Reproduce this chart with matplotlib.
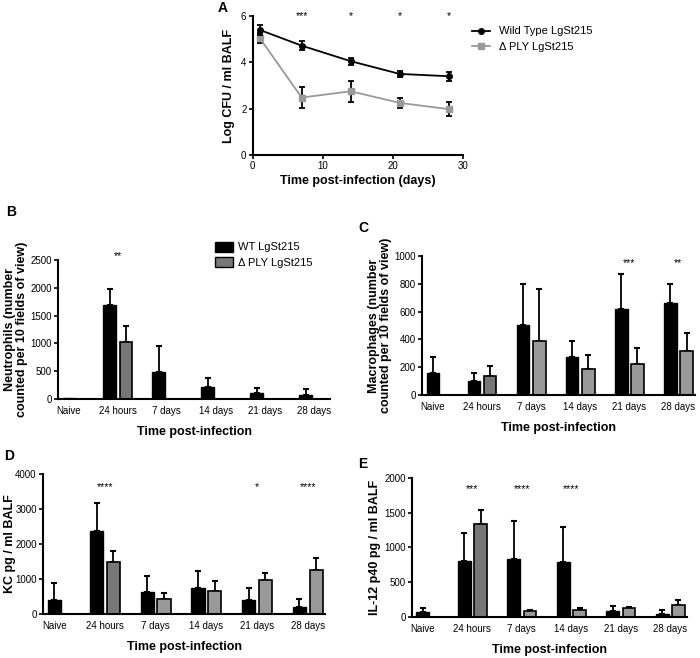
import numpy as np
import matplotlib
matplotlib.use('Agg')
import matplotlib.pyplot as plt
from matplotlib.patches import Patch
from matplotlib.lines import Line2D

plt.rcParams['font.family'] = ['Liberation Sans', 'DejaVu Sans']
plt.rcParams['font.size'] = 7

# ---- Panel A data ----
days = [1, 7, 14, 21, 28]
wt_cfu = [5.4, 4.72, 4.05, 3.5, 3.4]
wt_cfu_err = [0.2, 0.18, 0.15, 0.12, 0.2]
ply_cfu = [5.05, 2.48, 2.75, 2.25, 1.98]
ply_cfu_err = [0.2, 0.45, 0.45, 0.22, 0.3]
a_stars = {7: '***', 14: '*', 21: '*', 28: '*'}

# ---- bar panels ----
groups = ['Naive', '24 hours', '7 days', '14 days', '21 days', '28 days']

neut_wt = [10, 1690, 490, 215, 105, 80]
neut_wt_err = [0, 290, 470, 160, 90, 105]
neut_ply = [0, 1030, 3, 5, 5, 5]
neut_ply_err = [0, 280, 0, 0, 0, 0]
neut_stars = {1: '**'}

mac_wt = [160, 100, 500, 270, 620, 660]
mac_wt_err = [115, 60, 295, 115, 250, 140]
mac_ply = [0, 135, 390, 190, 225, 320]
mac_ply_err = [0, 70, 370, 95, 115, 125]
mac_stars = {4: '***', 5: '**'}

kc_wt = [400, 2380, 620, 730, 390, 210]
kc_wt_err = [490, 800, 470, 490, 340, 210]
kc_ply = [0, 1480, 440, 650, 980, 1250]
kc_ply_err = [0, 330, 150, 280, 190, 350]
kc_stars = {1: '****', 4: '*', 5: '****'}

il_wt = [65, 810, 830, 795, 80, 50]
il_wt_err = [65, 405, 555, 495, 75, 50]
il_ply = [0, 1340, 80, 95, 125, 175]
il_ply_err = [0, 195, 25, 35, 20, 65]
il_stars = {1: '***', 2: '****', 3: '****'}

GREY = '#999999'
DGREY = '#777777'


def style_axes(ax):
    for s in ['top', 'right']:
        ax.spines[s].set_visible(False)
    for s in ['left', 'bottom']:
        ax.spines[s].set_linewidth(1.5)
    ax.tick_params(direction='out', width=1.2, length=3, labelsize=7, pad=1.5)


def bar_panel(ax, wt, wt_err, ply, ply_err, stars, ymax, ystep, star_y, ylabel):
    off = 0.165
    w = 0.26
    for i in range(len(groups)):
        if i == 0:
            xs_b = 0
        else:
            xs_b = i - off
        ax.bar(xs_b, wt[i], width=w, color='black', edgecolor='black', linewidth=1, zorder=2)
        if wt_err[i] > 0:
            ax.errorbar(xs_b, wt[i], yerr=[[0], [wt_err[i]]], fmt='none', ecolor='black',
                        elinewidth=1.3, capsize=2.5, capthick=1.5, zorder=1)
        if i > 0:
            col = DGREY if i == 1 else GREY
            ax.bar(i + off, ply[i], width=w, color=col, edgecolor='black', linewidth=1.2, zorder=2)
            if ply_err[i] > 0:
                ax.errorbar(i + off, ply[i], yerr=[[0], [ply_err[i]]], fmt='none', ecolor='black',
                            elinewidth=1.3, capsize=2.5, capthick=1.5, zorder=1)
    for k, s in stars.items():
        ax.text(k, star_y, s, ha='center', va='center', fontsize=7.5, clip_on=False)
    ax.set_xlim(-0.22, 5.34)
    ax.set_ylim(0, ymax)
    ax.set_yticks(np.arange(0, ymax + 1, ystep))
    ax.set_xticks(range(len(groups)))
    ax.set_xticklabels(groups)
    style_axes(ax)
    ax.tick_params(axis='x', length=0, pad=5)
    ax.set_xlabel('Time post-infection', fontsize=9, fontweight='bold', labelpad=7)
    ax.set_ylabel(ylabel, fontsize=9, fontweight='bold', labelpad=2, linespacing=1.0)


fig = plt.figure(figsize=(7, 6.58), dpi=100)

# Panel A
axA = fig.add_axes([0.361, 0.7644, 0.30, 0.2113])
axA.errorbar(days, wt_cfu, yerr=wt_cfu_err, color='black', marker='o', markersize=4,
             linewidth=1.3, capsize=2.5, capthick=1.3, elinewidth=1.3, zorder=3)
axA.errorbar(days, ply_cfu, yerr=ply_cfu_err, color=GREY, marker='s', markersize=4,
             linewidth=1.3, ecolor='black', capsize=2.5, capthick=1.3, elinewidth=1.3, zorder=2)
for d, s in a_stars.items():
    axA.text(d, 6.0, s, ha='center', va='center', fontsize=7.5, clip_on=False)
axA.set_xlim(0, 30)
axA.set_ylim(0, 6)
axA.set_xticks([0, 10, 20, 30])
axA.set_yticks([0, 2, 4, 6])
style_axes(axA)
axA.set_xlabel('Time post-infection (days)', fontsize=9, fontweight='bold', labelpad=3)
axA.set_ylabel('Log CFU / ml BALF', fontsize=9, fontweight='bold', labelpad=4)
handlesA = [Line2D([], [], color='black', marker='o', markersize=4, linewidth=1.3),
            Line2D([], [], color=GREY, marker='s', markersize=4, linewidth=1.3)]
fig.legend(handlesA, ['Wild Type LgSt215', '\u0394 PLY LgSt215'], loc='upper left',
           bbox_to_anchor=(0.66, 0.975), frameon=False, fontsize=8, handlelength=1.6,
           handletextpad=0.8, labelspacing=0.5)

# Panel B
axB = fig.add_axes([0.083, 0.3936, 0.389, 0.2113])
bar_panel(axB, neut_wt, neut_wt_err, neut_ply, neut_ply_err, neut_stars, 2500, 500, 2570,
          'Neutrophils (number\ncounted per 10 fields of view)')
handlesB = [Patch(facecolor='black', edgecolor='black'),
            Patch(facecolor=DGREY, edgecolor='black')]
fig.legend(handlesB, ['WT LgSt215', '\u0394 PLY LgSt215'], loc='upper left',
           bbox_to_anchor=(0.293, 0.648), frameon=False, fontsize=8, handlelength=1.6,
           handleheight=1.0, handletextpad=0.5, labelspacing=0.45)

# Panel C
axC = fig.add_axes([0.603, 0.3997, 0.39, 0.2113])
bar_panel(axC, mac_wt, mac_wt_err, mac_ply, mac_ply_err, mac_stars, 1000, 200, 950,
          'Macrophages (number\ncounted per 10 fields of view)')

# Panel D
axD = fig.add_axes([0.0614, 0.0669, 0.403, 0.2128])
bar_panel(axD, kc_wt, kc_wt_err, kc_ply, kc_ply_err, kc_stars, 4000, 1000, 3630,
          'KC pg / ml BALF')
axD.yaxis.set_label_coords(-0.095, 0.5)

# Panel E
axE = fig.add_axes([0.5886, 0.0623, 0.393, 0.2113])
bar_panel(axE, il_wt, il_wt_err, il_ply, il_ply_err, il_stars, 2000, 500, 1840,
          'IL-12 p40 pg / ml BALF')

# panel letters
for lab, x, y in [('A', 218, 8), ('B', 6, 212), ('C', 358, 228), ('D', 4, 456), ('E', 358, 464)]:
    fig.text(x / 700, 1 - y / 658, lab, fontsize=10, fontweight='bold', ha='left', va='center')

fig.savefig('out.png', dpi=100)
